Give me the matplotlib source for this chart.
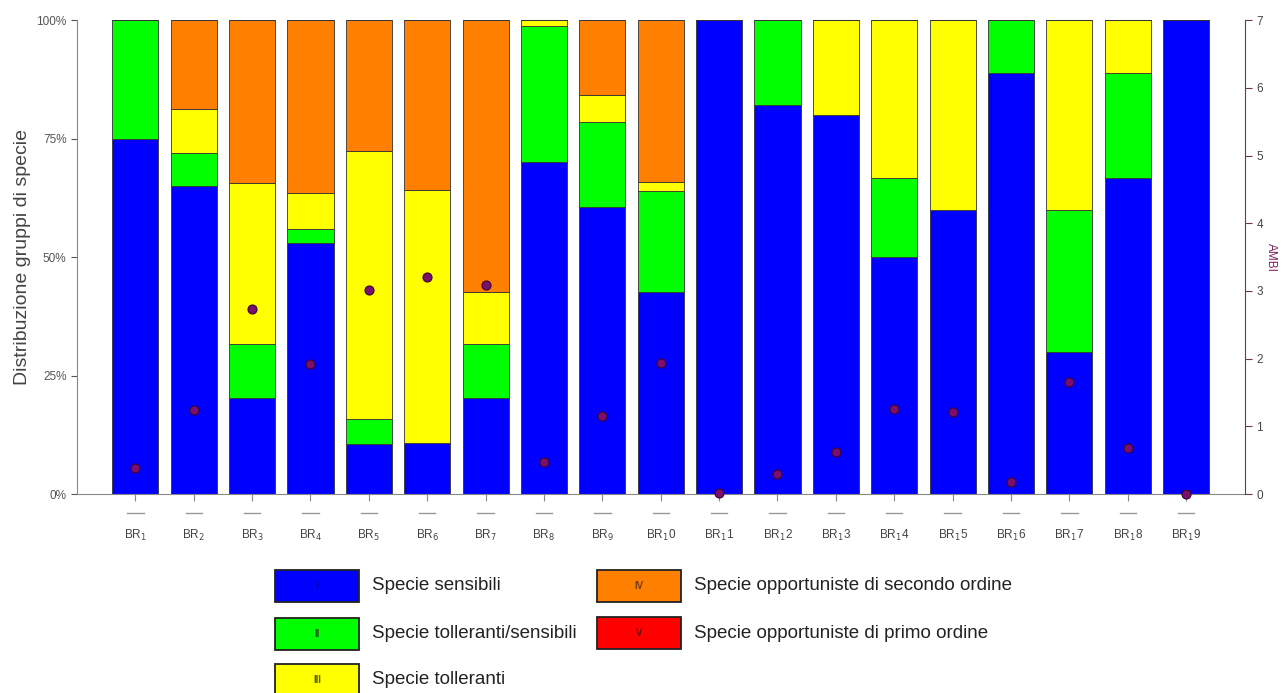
import numpy as np
import matplotlib.pyplot as plt
from matplotlib.patches import Rectangle

plt.rcParams['font.family'] = ['Liberation Sans', 'DejaVu Sans']

# --- dati ---
stazioni = ["BR$_1$", "BR$_2$", "BR$_3$", "BR$_4$", "BR$_5$", "BR$_6$", "BR$_7$",
            "BR$_8$", "BR$_9$", "BR$_1$0", "BR$_1$1", "BR$_1$2", "BR$_1$3",
            "BR$_1$4", "BR$_1$5", "BR$_1$6", "BR$_1$7", "BR$_1$8", "BR$_1$9"]

# percentuali per gruppo ecologico (I..V)
gruppo_I = [75, 65, 20.2, 53, 10.5, 10.7, 20.2, 70, 60.5, 42.6,
            100, 82, 80, 50, 60, 88.9, 30, 66.7, 100]
gruppo_II = [25, 7, 11.4, 3, 5.3, 0, 11.4, 28.7, 18, 21.3,
             0, 18, 0, 16.7, 0, 11.1, 30, 22.2, 0]
gruppo_III = [0, 9.3, 34.1, 7.6, 56.6, 53.5, 11.1, 1.3, 5.8, 2,
              0, 0, 20, 33.3, 40, 0, 40, 11.1, 0]
gruppo_IV = [0, 18.7, 34.3, 36.4, 27.6, 35.8, 57.3, 0, 15.7, 34.1,
             0, 0, 0, 0, 0, 0, 0, 0, 0]
gruppo_V = [0] * 19

ambi = [0.39, 1.24, 2.74, 1.92, 3.02, 3.21, 3.09, 0.48, 1.16, 1.93,
        0.02, 0.29, 0.62, 1.26, 1.21, 0.18, 1.66, 0.68, 0.0]

colori = ['#0000FF', '#00FF00', '#FFFF00', '#FF8000', '#FF0000']
colori_num = ['#10104a', '#1a5a1a', '#5a5a10', '#7a3a10', '#6a1010']
numeri = ['I', 'II', 'III', 'IV', 'V']
descrizioni = ['Specie sensibili', 'Specie tolleranti/sensibili', 'Specie tolleranti',
               'Specie opportuniste di secondo ordine', 'Specie opportuniste di primo ordine']

fig = plt.figure(figsize=(12.83, 6.93), dpi=100)
ax = fig.add_axes([0.060, 0.287, 0.910, 0.684])

x = np.arange(len(stazioni))
base = np.zeros(len(stazioni))
for vals, col in zip([gruppo_I, gruppo_II, gruppo_III, gruppo_IV, gruppo_V], colori):
    vals = np.array(vals, dtype=float)
    ax.bar(x, vals, width=0.79, bottom=base, color=col, edgecolor='#333333',
           linewidth=0.6, zorder=2)
    base += vals

ax.set_xlim(-1, len(stazioni))
ax.set_ylim(0, 100)
ax.set_yticks([0, 25, 50, 75, 100])
ax.set_yticklabels(['0%', '25%', '50%', '75%', '100%'])
ax.set_xticks(x)
ax.set_xticklabels(stazioni)
ax.tick_params(axis='y', colors='#555555', labelsize=8.5, length=4, width=0.8)
ax.tick_params(axis='x', colors='#888888', labelcolor='#444444', labelsize=8.5,
               length=5, width=0.8, pad=19)
ax.set_ylabel('Distribuzione gruppi di specie', fontsize=14, color='#444444', labelpad=4)

for s in ['top', 'right']:
    ax.spines[s].set_visible(False)
ax.spines['left'].set_color('#888888')
ax.spines['bottom'].set_color('#888888')

# trattino sotto ogni tacca
for xi in x:
    ax.plot([xi - 0.14, xi + 0.14], [-0.040, -0.040], color='#999999', lw=1.0,
            transform=ax.get_xaxis_transform(), clip_on=False)

# asse secondario AMBI
ax2 = ax.twinx()
ax2.set_ylim(0, 7)
ax2.set_yticks(range(8))
ax2.plot(x, ambi, 'o', color='#7a0f6e', markeredgecolor='#3a0030',
         markersize=6.5, markeredgewidth=0.8, zorder=5, clip_on=False)
ax2.set_ylabel('AMBI', color='#7a1f5c', fontsize=8.5, rotation=-90, labelpad=10)
ax2.tick_params(axis='y', colors='#6b3a4a', labelcolor='#444444', labelsize=8.5,
                length=5, width=0.8)
for s in ['top', 'left', 'bottom']:
    ax2.spines[s].set_visible(False)
ax2.spines['right'].set_color('#6b3a4a')

# legenda con riquadri numerati (coordinate in pixel della figura)
W, H = 1283.0, 693.0
bw, bh = 84, 32
pos = [(275, 570), (275, 618), (275, 664), (597, 570), (597, 617)]
for (px, py), col, ncol, num, txt in zip(pos, colori, colori_num, numeri, descrizioni):
    fig.patches.append(Rectangle((px / W, 1 - (py + bh) / H), bw / W, bh / H,
                                 transform=fig.transFigure, facecolor=col,
                                 edgecolor='#222222', linewidth=1.3))
    fig.text((px + bw / 2) / W, 1 - (py + bh / 2) / H, num, ha='center', va='center',
             fontsize=7, fontweight='bold', color=ncol)
    fig.text((px + bw + 13) / W, 1 - (py + bh / 2) / H, txt, ha='left', va='center',
             fontsize=13.5, color='#222222')

fig.savefig('out.png', dpi=100)
